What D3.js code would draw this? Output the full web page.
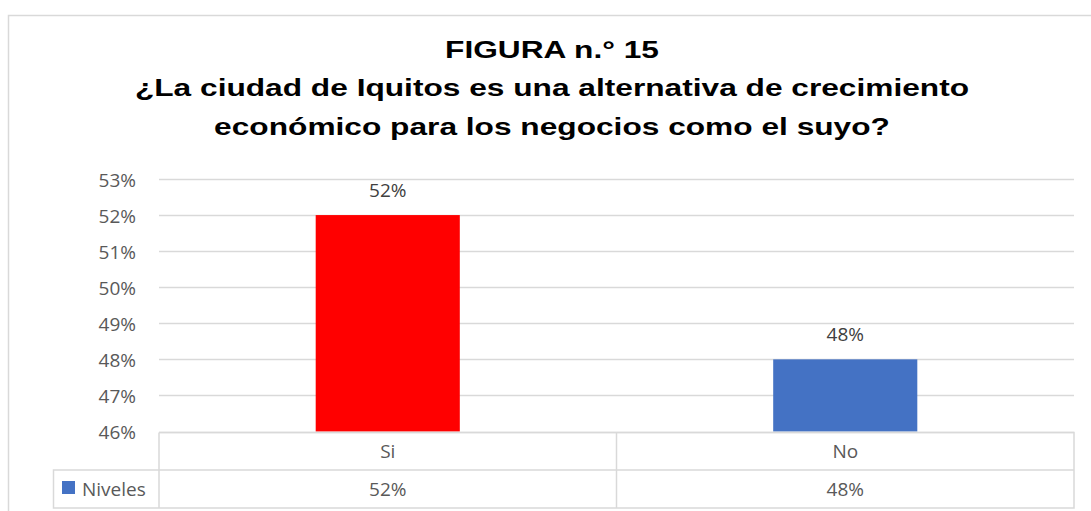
<!DOCTYPE html>
<html>
<head>
<meta charset="utf-8">
<script src="https://cdn.jsdelivr.net/npm/d3@7"></script>
<style>
  body { margin: 0; background: #fff; }
  svg text { font-family: "Open Sans", "Noto Sans", sans-serif; }
</style>
</head>
<body>
<div id="chart"></div>
<script>
// chart data
const categories = ["Si", "No"];
const values = [0.52, 0.48];
const barColors = ["#ff0000", "#4472c4"];
const seriesName = "Niveles";
const yTicks = [0.46, 0.47, 0.48, 0.49, 0.50, 0.51, 0.52, 0.53];
const titleLines = [
  "FIGURA n.° 15",
  "¿La ciudad de Iquitos es una alternativa de crecimiento",
  "económico para los negocios como el suyo?"
];

const width = 1091;
const height = 511;
const grey = "#d9d9d9";
const textGrey = "#595959";
const labelSize = "19px";

const svg = d3.select("#chart").append("svg")
  .attr("width", width)
  .attr("height", height);

// outer chart border
svg.append("rect")
  .attr("x", 8.5).attr("y", 15.5)
  .attr("width", 1100).attr("height", 520)
  .attr("fill", "none")
  .attr("stroke", grey)
  .attr("stroke-width", 1.5);

// title (the original is drawn wide, so stretch it horizontally)
const titleCx = 552;
const title = svg.append("text")
  .attr("text-anchor", "middle")
  .attr("transform", `translate(${titleCx},0) scale(1.32,1)`)
  .style("font-family", "'Liberation Sans', Arial, sans-serif")
  .style("font-weight", "bold")
  .style("font-size", "24px")
  .attr("fill", "#000");
titleLines.forEach((t, i) => {
  title.append("tspan")
    .attr("x", 0)
    .attr("y", 58 + i * 38.5)
    .text(t);
});

const plotLeft = 159, plotRight = 1074;
const x = d3.scaleBand().domain(categories).range([plotLeft, plotRight]).paddingInner(0.685).paddingOuter(0.3425);
const xCol = d3.scaleBand().domain(categories).range([plotLeft, plotRight]);
const y = d3.scaleLinear().domain([0.46, 0.53]).range([431.5, 179]);

// gridlines
svg.append("g")
  .selectAll("line")
  .data(yTicks)
  .join("line")
  .attr("x1", plotLeft).attr("x2", plotRight)
  .attr("y1", d => Math.round(y(d)) + 0.5)
  .attr("y2", d => Math.round(y(d)) + 0.5)
  .attr("stroke", grey)
  .attr("stroke-width", 1.5);

// y axis labels
const fmt = d3.format(".0%");
const yAxis = d3.axisLeft(y).tickValues(yTicks).tickFormat(fmt).tickSize(0).tickPadding(0);
const yg = svg.append("g").attr("transform", "translate(136,1)").call(yAxis);
yg.select(".domain").remove();
yg.selectAll("text")
  .attr("fill", textGrey)
  .style("font-size", labelSize)
  .style("font-family", "'Open Sans', sans-serif");

// bars
const data = categories.map((c, i) => ({ cat: c, value: values[i], color: barColors[i] }));
svg.append("g")
  .selectAll("rect")
  .data(data)
  .join("rect")
  .attr("x", d => x(d.cat))
  .attr("width", x.bandwidth())
  .attr("y", d => y(d.value))
  .attr("height", d => y(0.46) - y(d.value))
  .attr("fill", d => d.color);

// data labels
svg.append("g")
  .selectAll("text")
  .data(data)
  .join("text")
  .attr("x", d => x(d.cat) + x.bandwidth() / 2)
  .attr("y", d => y(d.value) - 18)
  .attr("text-anchor", "middle")
  .attr("fill", "#404040")
  .style("font-size", labelSize)
  .text(d => fmt(d.value));

// data table
const row1 = 432.5, row2 = 470, row3 = 508;
const legendLeft = 53.5;
const tbl = svg.append("g").attr("stroke", grey).attr("stroke-width", 1.5).attr("fill", "none");
tbl.append("path")
  .attr("d", `M${plotLeft},${row1}H${plotRight}V${row3}H${legendLeft}V${row2}H${plotRight}`);
[plotLeft, xCol("No")].forEach(xx => {
  tbl.append("line").attr("x1", xx).attr("x2", xx).attr("y1", row1).attr("y2", row3);
});

svg.append("g")
  .selectAll("text")
  .data(data)
  .join("text")
  .attr("x", d => xCol(d.cat) + xCol.bandwidth() / 2)
  .attr("y", (row1 + row2) / 2 + 7)
  .attr("text-anchor", "middle")
  .attr("fill", textGrey)
  .style("font-size", labelSize)
  .text(d => d.cat);

svg.append("g")
  .selectAll("text")
  .data(data)
  .join("text")
  .attr("x", d => xCol(d.cat) + xCol.bandwidth() / 2)
  .attr("y", (row2 + row3) / 2 + 7)
  .attr("text-anchor", "middle")
  .attr("fill", textGrey)
  .style("font-size", labelSize)
  .text(d => fmt(d.value));

// legend key
svg.append("rect")
  .attr("x", 62).attr("y", 481)
  .attr("width", 13).attr("height", 13)
  .attr("fill", "#4472c4");
svg.append("text")
  .attr("x", 82).attr("y", (row2 + row3) / 2 + 7)
  .attr("fill", textGrey)
  .style("font-size", labelSize)
  .text(seriesName);
</script>
</body>
</html>
